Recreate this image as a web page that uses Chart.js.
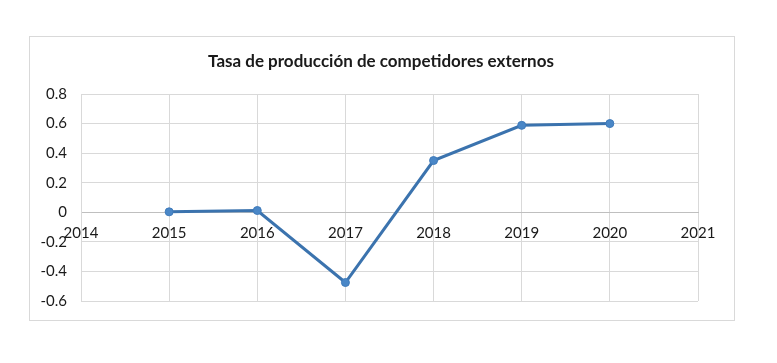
<!DOCTYPE html>
<html>
<head>
<meta charset="utf-8">
<script src="https://cdn.jsdelivr.net/npm/chart.js@4/dist/chart.umd.min.js"></script>
<style>
  body { margin: 0; background: #fff; }
  canvas { display: block; }
</style>
</head>
<body>
<canvas id="chart" width="777" height="363"></canvas>
<script>
// data
var years = [2015, 2016, 2017, 2018, 2019, 2020];
var rates = [0.003, 0.012, -0.475, 0.35, 0.588, 0.6];
var titleText = 'Tasa de producción de competidores externos';

var points = [];
for (let i = 0; i < years.length; i++) {
    points.push({ x: years[i], y: rates[i] });
}

// outer frame + title, like the office chart
var framePlugin = {
    id: 'frame',
    beforeDraw: function(chart) {
        var ctx = chart.ctx;
        ctx.save();
        ctx.fillStyle = '#fff';
        ctx.fillRect(0, 0, chart.width, chart.height);
        ctx.strokeStyle = '#d9d9d9';
        ctx.lineWidth = 1;
        ctx.strokeRect(29.5, 36.5, 705, 284);
        ctx.fillStyle = '#1a1a1a';
        ctx.font = 'bold 17px Lato, "Open Sans", sans-serif';
        ctx.textAlign = 'center';
        ctx.textBaseline = 'middle';
        ctx.fillText(titleText, 381, 62);
        ctx.restore();
    }
};

var tickFont = { size: 15, family: 'Lato, "Open Sans", sans-serif' };

new Chart(document.getElementById('chart'), {
    type: 'scatter',
    data: {
        datasets: [{
            data: points,
            showLine: true,
            borderColor: '#3b73ae',
            borderWidth: 3,
            backgroundColor: '#4a87c7',
            pointBorderColor: '#3f7bbb',
            pointRadius: 4,
            pointBorderWidth: 1
        }]
    },
    options: {
        responsive: false,
        animation: false,
        layout: { padding: { left: 29, right: 79, top: 94, bottom: 62 } },
        plugins: {
            legend: { display: false },
            tooltip: { enabled: false }
        },
        scales: {
            x: {
                type: 'linear',
                position: { y: 0 },
                min: 2014,
                max: 2021,
                ticks: {
                    stepSize: 1,
                    padding: 12,
                    color: '#1a1a1a',
                    font: tickFont,
                    callback: function(v) { return String(v); }
                },
                grid: { color: '#d9d9d9', drawTicks: false },
                border: { color: '#bfbfbf' }
            },
            y: {
                min: -0.6,
                max: 0.8,
                afterFit: function(scale) { scale.width = 52; },
                ticks: {
                    stepSize: 0.2,
                    padding: 14,
                    color: '#1a1a1a',
                    font: tickFont,
                    callback: function(v) {
                        var r = Math.round(v * 10) / 10;
                        return r === 0 ? '0' : r.toFixed(1);
                    }
                },
                grid: { color: '#d9d9d9', drawTicks: false },
                border: { color: '#d9d9d9' }
            }
        }
    },
    plugins: [framePlugin]
});
</script>
</body>
</html>
